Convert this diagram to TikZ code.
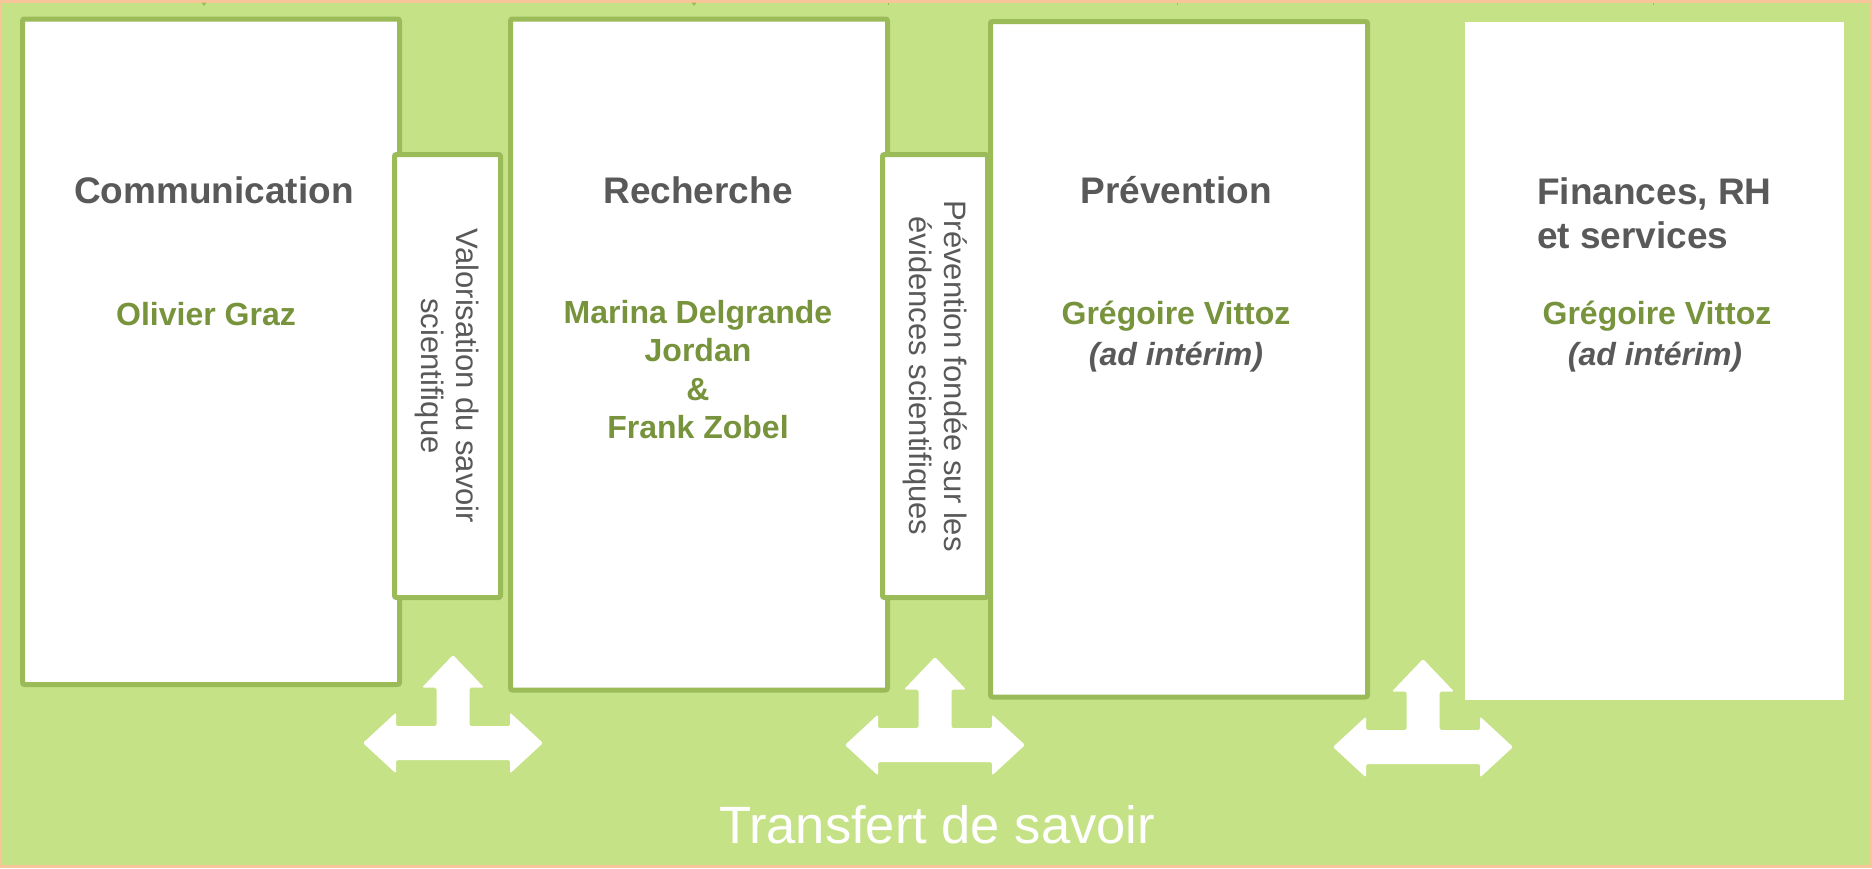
\documentclass[tikz,border=0pt]{standalone}
\usepackage{fontspec}
\setmainfont{Liberation Sans}
\usepackage{tikz}
\definecolor{bggreen}{HTML}{C5E287}
\definecolor{edgegreen}{HTML}{9BBB59}
\definecolor{namegreen}{HTML}{77933C}
\definecolor{txtgray}{HTML}{595959}
\definecolor{rimorange}{HTML}{F8C59B}

\begin{document}
\begin{tikzpicture}[x=1pt, y=-1pt,
  unitbox/.style={draw=edgegreen, line width=5pt, fill=white, rounded corners=2pt, inner sep=0pt, minimum width=377pt},
  linkbox/.style={draw=edgegreen, line width=5pt, fill=white, rounded corners=2pt, inner sep=0pt, minimum width=106pt, minimum height=443pt},
  title/.style={font=\fontsize{37pt}{44pt}\selectfont\bfseries, text=txtgray, inner sep=0pt},
  person/.style={font=\fontsize{32pt}{38.5pt}\selectfont\bfseries, text=namegreen, align=center, inner sep=0pt},
  interim/.style={font=\fontsize{32pt}{38.5pt}\selectfont\bfseries\itshape, text=txtgray, inner sep=0pt},
  linktext/.style={font=\fontsize{31pt}{35pt}\selectfont, text=txtgray, align=center, rotate=-90, inner sep=0pt}]

  \useasboundingbox (0,0) rectangle (1872,868);
  % Background
  \fill[rimorange] (0,0) rectangle (1872,868);
  \fill[bggreen] (2,2.5) rectangle (1870,865);
  \foreach \mx in {204,694}
    \fill[edgegreen] (\mx-2.5,2.5) -- (\mx+2.5,2.5) -- (\mx,6) -- cycle;
  \foreach \mx in {888,1177,1653}
    \draw[edgegreen, line width=1pt] (\mx,2.5) -- (\mx,5);

  % Units
  \node[unitbox, minimum height=665.5pt] (comm) at (211,351.75) {};
  \node[unitbox, minimum height=671pt] (rech) at (699,354.5) {};
  \node[unitbox, minimum height=675.5pt] (prev) at (1179,359.25) {};
  \node[unitbox, draw=none, rounded corners=0pt, minimum width=379pt, minimum height=678pt] (fin) at (1654.5,361) {};

  % Links between units
  \node[linkbox] (valor) at (447.5,376) {};
  \node[linkbox, minimum width=105pt] (fondee) at (935,376) {};
  \node[linktext] (valortext) at (valor) {Valorisation du savoir\\scientifique};
  \node[linktext] (fondeetext) at (fondee) {Prévention fondée sur les\\évidences scientifiques};

  % Titles
  \node[title, anchor=base] (commtitle) at (214,203) {Communication};
  \node[title, anchor=base] (rechtitle) at (698,203) {Recherche};
  \node[title, anchor=base] (prevtitle) at (1176,203) {Prévention};
  \node[title, anchor=north west, align=left] (fintitle) at (1537,177) {Finances, RH\\et services};

  % Heads
  \node[person, anchor=base] (commhead) at (206,325) {Olivier Graz};
  \node[person, anchor=north] (rechhead) at (698,300) {Marina Delgrande\\Jordan\\\&\\Frank Zobel};
  \node[person, anchor=base] (prevhead) at (1176,324) {Grégoire Vittoz};
  \node[interim, anchor=base] (previnterim) at (1176,365.5) {(ad intérim)};
  \node[person, anchor=base] (finhead) at (1657,324) {Grégoire Vittoz};
  \node[interim, anchor=base] (fininterim) at (1655,365.5) {(ad intérim)};

  % Transfer arrows
  \foreach \cx/\cy in {453/743, 935/745, 1423/747}
    \fill[white, rounded corners=1.5pt, shift={(\cx,\cy)}]
      (-90,0) -- (-57,-30.5) -- (-57,-17) -- (-16.5,-17) -- (-16.5,-55.5) -- (-31,-55.5)
      -- (0,-88) -- (31,-55.5) -- (16.5,-55.5) -- (16.5,-17) -- (57,-17) -- (57,-30.5)
      -- (90,0) -- (57,30.5) -- (57,17) -- (-57,17) -- (-57,30.5) -- cycle;
  \node[font=\fontsize{52.5pt}{60pt}\selectfont, text=white, anchor=base, inner sep=0pt] (transfert) at (937,843) {Transfert de savoir};
\end{tikzpicture}
\end{document}
